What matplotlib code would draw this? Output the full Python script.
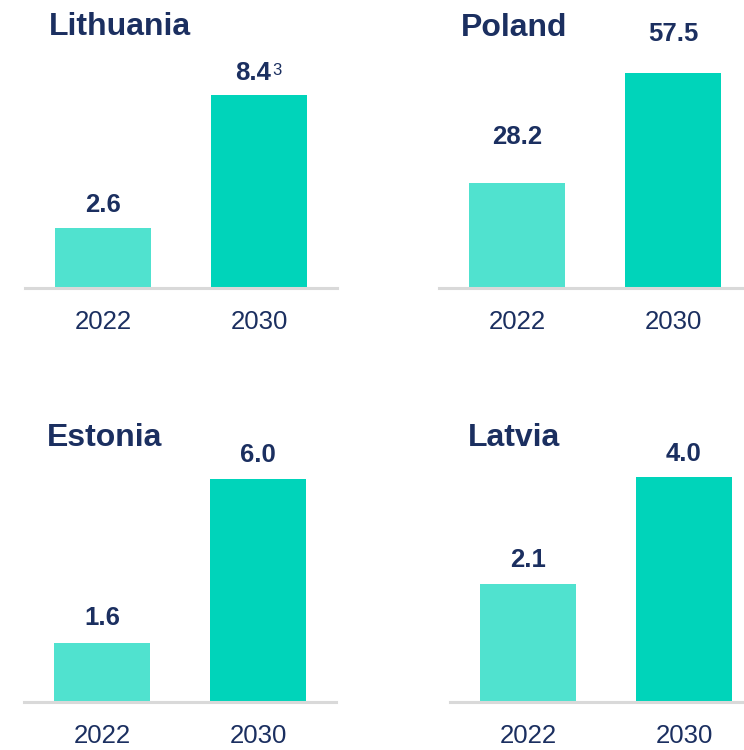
import matplotlib.pyplot as plt

plt.rcParams['font.family'] = ['Liberation Sans', 'DejaVu Sans']

# data
countries = ['Lithuania', 'Poland', 'Estonia', 'Latvia']
years = ['2022', '2030']
values_2022 = [2.6, 28.2, 1.6, 2.1]
values_2030 = [8.4, 57.5, 6.0, 4.0]
labels_2022 = ['2.6', '28.2', '1.6', '2.1']
labels_2030 = ['8.4', '57.5', '6.0', '4.0']
footnotes_2030 = ['3', '', '', '']

NAVY = '#1B2F60'
LIGHT = '#50E2CF'
DARK = '#00D4BA'
GRID = '#D9D9D9'

W, H = 744, 750
fig = plt.figure(figsize=(W / 100, H / 100), dpi=100)

# panel layout in pixels: axes left, baseline y, y-max, title x, title y, label gap
panels = [
    dict(left=25, base=288, ymax=11.3, tx=49, ty=27, gap=[17, 16]),
    dict(left=439, base=288, ymax=69.5, tx=461, ty=28, gap=[33, 28]),
    dict(left=24, base=702, ymax=7.0, tx=47, ty=438, gap=[18, 17.5]),
    dict(left=450, base=702, ymax=4.63, tx=468, ty=438, gap=[17, 16.5]),
]
AX_W, AX_H = 312, 260

for i, p in enumerate(panels):
    ax = fig.add_axes([p['left'] / W, (H - p['base']) / H, AX_W / W, AX_H / H])
    vals = [values_2022[i], values_2030[i]]
    bars = ax.bar([0, 1], vals, width=0.62, color=[LIGHT, DARK])
    ax.set_xlim(-0.5, 1.5)
    ax.set_ylim(0, p['ymax'])
    for s in ['top', 'left', 'right']:
        ax.spines[s].set_visible(False)
    ax.spines['bottom'].set_color(GRID)
    ax.spines['bottom'].set_linewidth(2.2)
    ax.set_yticks([])
    ax.set_xticks([0, 1])
    ax.set_xticklabels(years, fontsize=18.5, color=NAVY)
    ax.tick_params(axis='x', length=0, pad=16)
    ax.patch.set_visible(False)

    for b, lab, g, fn in zip(bars, [labels_2022[i], labels_2030[i]], p['gap'],
                             ['', footnotes_2030[i]]):
        dx = -4 if fn else 0
        t = ax.annotate(lab, (b.get_x() + b.get_width() / 2, b.get_height()),
                        xytext=(dx, g), textcoords='offset points',
                        ha='center', va='center', fontsize=18.5,
                        fontweight='bold', color=NAVY)
        if fn:
            # footnote marker set as superscript right after the value
            ax.annotate(fn, xy=(1, 0.88), xycoords=t, xytext=(1, 0),
                        textcoords='offset points', ha='left', va='top',
                        fontsize=12, color=NAVY)

    fig.text(p['tx'] / W, 1 - p['ty'] / H, countries[i], fontsize=23,
             fontweight='bold', color=NAVY, ha='left', va='center')

fig.savefig('out.png', dpi=100)
